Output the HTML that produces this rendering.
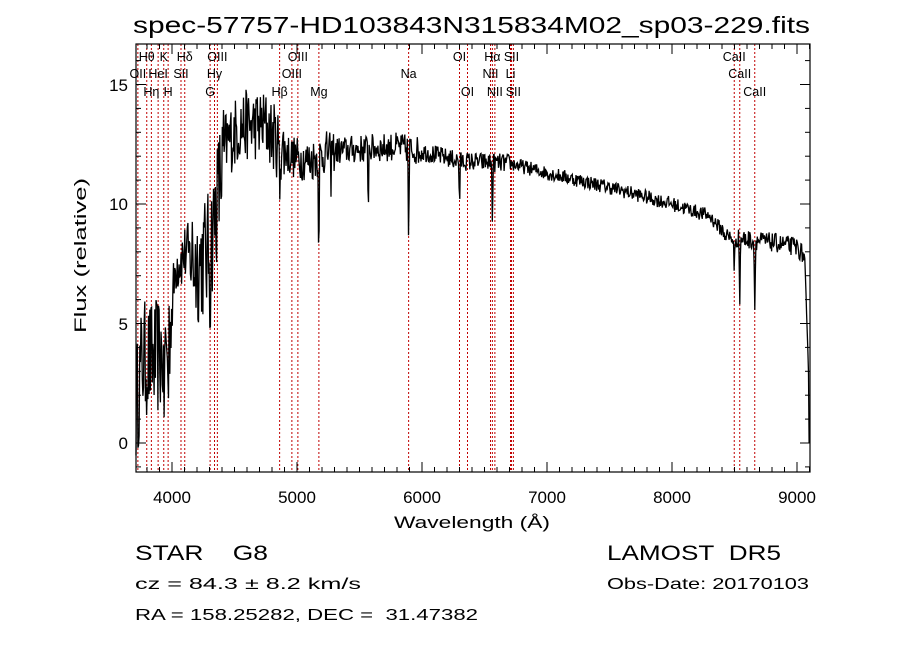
<!DOCTYPE html>
<html><head><meta charset="utf-8">
<style>
html,body{margin:0;padding:0;background:#fff;}
svg{display:block;font-family:"Liberation Sans","DejaVu Sans",sans-serif;}
</style></head>
<body>
<svg id="s" width="900" height="649" viewBox="0 0 900 649" xmlns="http://www.w3.org/2000/svg">
<rect width="900" height="649" fill="#fff"/>
<text x="133" y="33" font-size="23" fill="#000" textLength="677" lengthAdjust="spacingAndGlyphs">spec-57757-HD103843N315834M02_sp03-229.fits</text>
<g id="lines"></g>
<g id="labels" font-size="12.5" fill="#000"></g>
<path id="spec" fill="none" stroke="#000" stroke-width="1.3"/>
<rect x="136" y="44" width="674" height="428" fill="none" stroke="#000" stroke-width="1.2"/>
<g id="ticks" stroke="#000" stroke-width="1"></g>
<g font-size="17" fill="#000">
<text x="172" y="503" text-anchor="middle">4000</text>
<text x="297" y="503" text-anchor="middle">5000</text>
<text x="422" y="503" text-anchor="middle">6000</text>
<text x="547" y="503" text-anchor="middle">7000</text>
<text x="672" y="503" text-anchor="middle">8000</text>
<text x="797" y="503" text-anchor="middle">9000</text>
<text x="128" y="449" text-anchor="end">0</text>
<text x="128" y="330" text-anchor="end">5</text>
<text x="128" y="210" text-anchor="end">10</text>
<text x="128" y="91" text-anchor="end">15</text>
<text x="394" y="528" textLength="156" lengthAdjust="spacingAndGlyphs">Wavelength (Å)</text>
<text transform="translate(86,333) rotate(-90)" textLength="155" lengthAdjust="spacingAndGlyphs">Flux (relative)</text>
</g>
<g fill="#000">
<text x="135" y="560" font-size="21" textLength="133" lengthAdjust="spacingAndGlyphs">STAR&#160;&#160;&#160;&#160;G8</text>
<text x="607" y="560" font-size="21" textLength="174" lengthAdjust="spacingAndGlyphs">LAMOST&#160;&#160;DR5</text>
<text x="135" y="589" font-size="16" textLength="226" lengthAdjust="spacingAndGlyphs">cz = 84.3 ± 8.2 km/s</text>
<text x="607" y="589" font-size="16" textLength="202" lengthAdjust="spacingAndGlyphs">Obs-Date: 20170103</text>
<text x="135" y="620" font-size="16" textLength="343" lengthAdjust="spacingAndGlyphs">RA = 158.25282, DEC =&#160;&#160;31.47382</text>
</g>
</svg>
<script>
var NS="http://www.w3.org/2000/svg";
function X(l){return 172+(l-4000)*0.125;}
function Y(f){return 443-f*23.9;}
function el(t,a,p){var e=document.createElementNS(NS,t);for(var k in a)e.setAttribute(k,a[k]);p.appendChild(e);return e;}
var tg=document.getElementById('ticks');
for(var l=3800;l<=9100;l+=100){var x=X(l);var L=(l%1000==0)?10:5;
 el('line',{x1:x,x2:x,y1:472,y2:472-L},tg);el('line',{x1:x,x2:x,y1:44,y2:44+L},tg);}
for(var f=-1;f<=16;f++){var y=Y(f);var L=(f%5==0)?10:5;
 el('line',{x1:136,x2:136+L,y1:y,y2:y},tg);el('line',{x1:810,x2:810-L,y1:y,y2:y},tg);}
var lines=[[3727,"OII",2],[3798,"Hθ",1],[3835,"Hη",3],[3889,"HeI",2],[3934,"K",1],[3969,"H",3],[4072,"SII",2],[4102,"Hδ",1],[4305,"G",3],[4340,"Hγ",2],[4363,"OIII",1],[4861,"Hβ",3],[4959,"OIII",2],[5007,"OIII",1],[5175,"Mg",3],[5893,"Na",2],[6300,"OI",1],[6364,"OI",3],[6548,"NII",2],[6563,"Hα",1],[6583,"NII",3],[6708,"Li",2],[6716,"SII",1],[6731,"SII",3],[8498,"CaII",1],[8542,"CaII",2],[8662,"CaII",3]];
var lg=document.getElementById('lines'),lb=document.getElementById('labels');
var rows={1:61,2:78,3:96};
lines.forEach(function(d){var x=X(d[0]);
 el('line',{x1:x,x2:x,y1:44,y2:472,stroke:"#c00000","stroke-width":1,"stroke-dasharray":"2,2"},lg);
 var t=el('text',{x:x,y:rows[d[2]],"text-anchor":"middle"},lb);t.textContent=d[1];});
var seed=12345;function r(){seed=(seed*16807)%2147483647;return seed/2147483647;}
var knots=[[3712,1.5],[3760,3.5],[3850,3.5],[3950,3.8],[3990,5],[4030,7.5],[4120,8],[4200,7.5],[4300,8],[4370,10.5],[4430,12.5],[4550,13.3],[4750,13.3],[4850,12.5],[4950,12],[5100,11.8],[5250,12.2],[5500,12.3],[5800,12.4],[6000,12.2],[6300,11.8],[6700,11.7],[7000,11.3],[7500,10.7],[8000,10],[8300,9.5],[8450,8.6],[8800,8.4],[9000,8.2],[9060,7.8],[9090,3],[9104,0]];
function base(l){for(var i=0;i<knots.length-1;i++){if(l<=knots[i+1][0]){var a=knots[i],b=knots[i+1];return a[1]+(b[1]-a[1])*(l-a[0])/(b[0]-a[0]);}}return 0;}
function amp(l){if(l<3990)return 2.5;if(l<4150)return 1.3;if(l<4420)return 2.6;if(l<4900)return 1.5;if(l<5300)return 0.9;if(l<6000)return 0.6;if(l<6700)return 0.4;if(l<8400)return 0.3;return 0.4;}
var dips=[[3934,3],[3969,3],[4305,2],[4861,2],[5175,5],[5270,1.5],[5570,2.5],[5893,4.5],[6300,2],[6563,2.5],[8498,1.8],[8542,2.5],[8662,3]];
var d="";var first=true;
for(var l=3712;l<=9100;l+=5){var f=base(l)+(r()-0.5)*2*amp(l);
 dips.forEach(function(p){var w=Math.abs(l-p[0]);if(w<7)f-=p[1]*(1-w/7);});
 if(l>9095)f=0;
 var x=X(l).toFixed(1),y=Y(f).toFixed(1);
 d+=(first?"M":"L")+x+","+y;first=false;}
document.getElementById('spec').setAttribute('d',d);
</script>
</body></html>
